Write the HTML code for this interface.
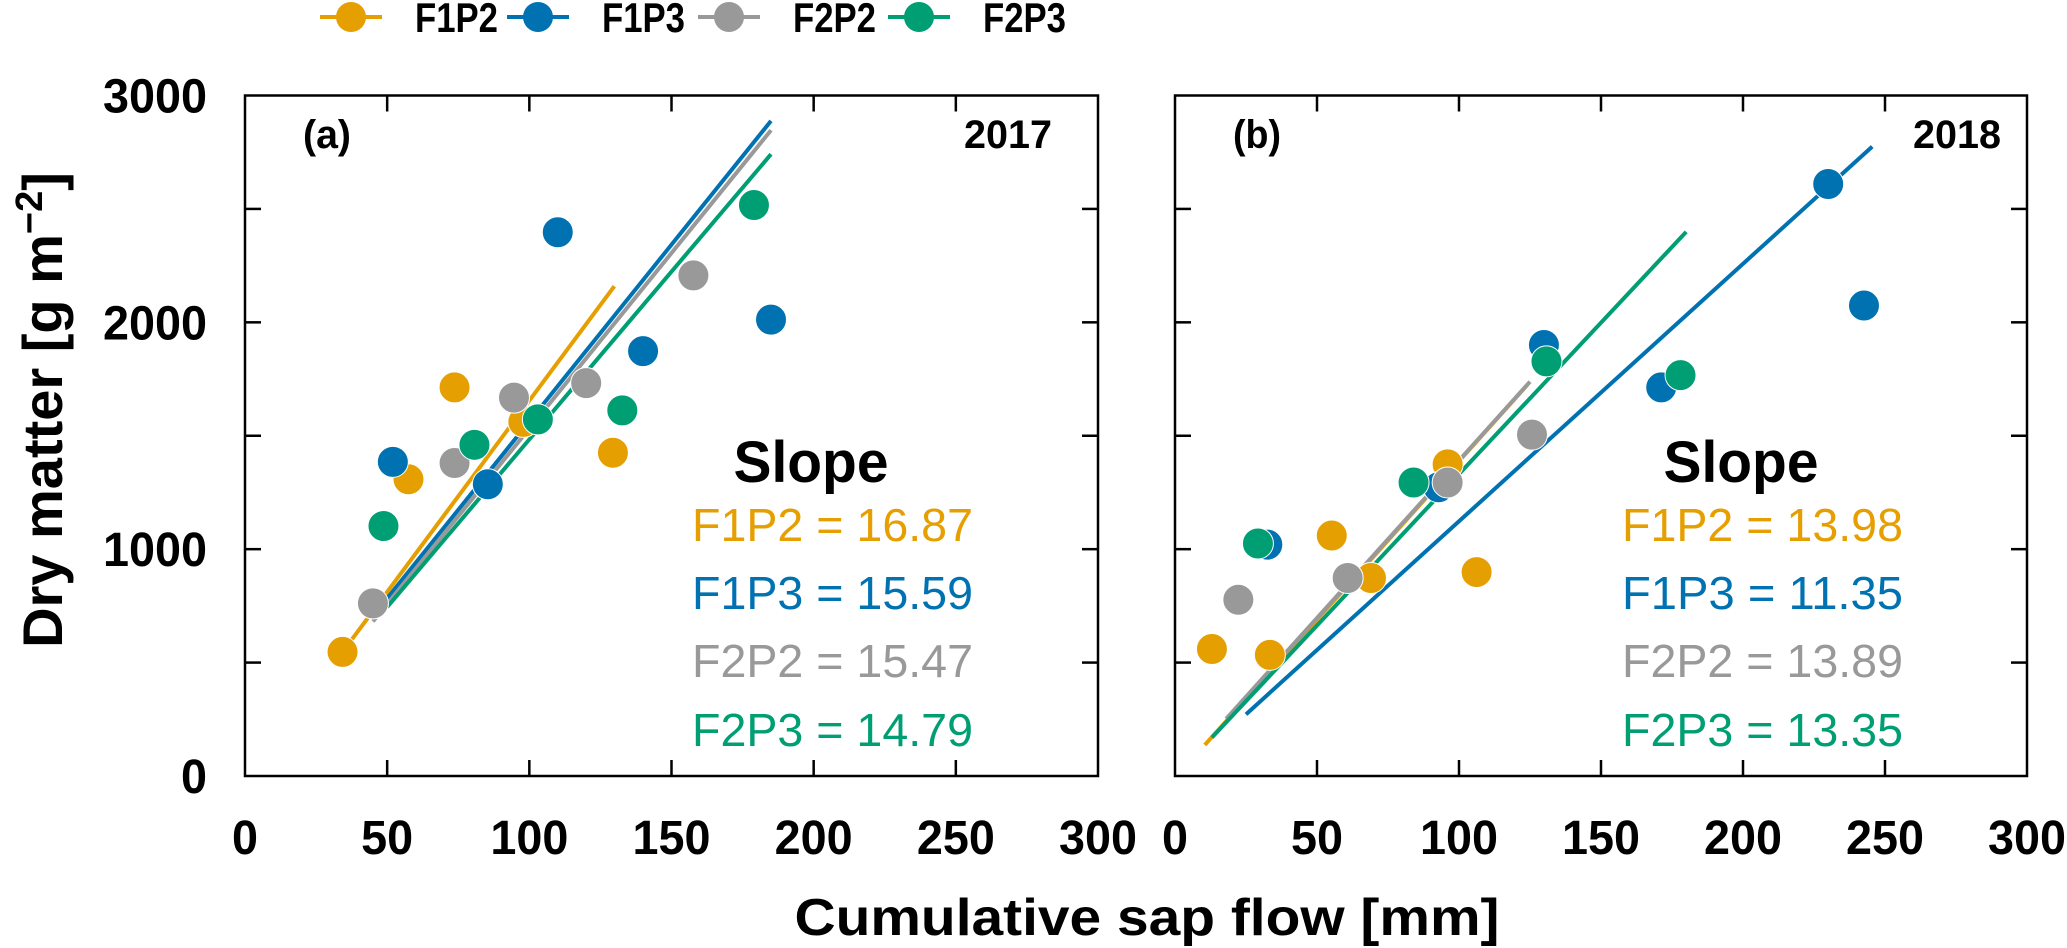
<!DOCTYPE html>
<html><head><meta charset="utf-8"><style>
html,body{margin:0;padding:0;background:#fff;}
svg{display:block;}
</style></head><body>
<svg id="chart" width="2067" height="948" viewBox="0 0 2067 948" xmlns="http://www.w3.org/2000/svg" font-family="Liberation Sans, Arial, sans-serif">
</svg>
<script>
const seriesNames = ["F1P2","F1P3","F2P2","F2P3"];
const colors = ["#E69F00","#0072B2","#999999","#009E73"];
const xTicks = [0,50,100,150,200,250,300];
const yTicks = [0,1000,2000,3000];
const yMinor = [500,1500,2500];
// Panel a (2017)
const aF1P2x = [34.3,57.5,73.7,97.9,129.4];
const aF1P2y = [547,1308,1713,1561,1425];
const aF1P3x = [52,85.4,110,140,185];
const aF1P3y = [1385,1286,2397,1873,2012];
const aF2P2x = [45,73.7,94.6,120,157.7];
const aF2P2y = [761,1380,1668,1732,2207];
const aF2P3x = [48.7,80.7,103,132.7,179];
const aF2P3y = [1102,1460,1572,1612,2517];
const aSlopes = [16.87,15.59,15.47,14.79];
const aIntercepts = [-32,4,-15,5];
const aLineStart = [34.3,47,45,50];
const aLineEnd = [129.9,185,185,185];
// Panel b (2018)
const bF1P2x = [13,33.4,55.2,69,96,106.2];
const bF1P2y = [560,534,1060,873,1374,899];
const bF1P3x = [32.5,92.8,129.9,171.2,230,242.6];
const bF1P3y = [1020,1273,1900,1713,2610,2074];
const bF2P2x = [22.3,60.8,96,125.7];
const bF2P2y = [777,873,1294,1505];
const bF2P3x = [29.2,84,130.8,178];
const bF2P3y = [1025,1294,1828,1767];
const bSlopes = [13.98,11.35,13.89,13.35];
const bIntercepts = [-10,-12,2,-4];
const bLineStart = [10.5,25,18,13];
const bLineEnd = [124,245.5,125,180];

const NS="http://www.w3.org/2000/svg";
const svg=document.getElementById('chart');
function mk(tag,attrs,parent){const e=document.createElementNS(NS,tag);for(const k in attrs)e.setAttribute(k,attrs[k]);(parent||svg).appendChild(e);return e;}

const plotTop=95.5,plotBottom=776;
function yScale(v){return plotBottom-(v/3000)*(plotBottom-plotTop);}

function panel(left,right,pts,slopes,ints,ls,le,label,year,showY,pid){
  const g=mk('g',{});
  
  
  const xs=v=>left+(v/300)*(right-left);
  const frame=mk('rect',{x:left,y:plotTop,width:right-left,height:plotBottom-plotTop,fill:'none',stroke:'#000','stroke-width':2.5},g);
  
  
  xTicks.forEach(t=>{
    const x=xs(t);
    if(t>0&&t<300){
      mk('line',{x1:x,y1:plotBottom,x2:x,y2:plotBottom-16,stroke:'#000','stroke-width':2.5},g);
      mk('line',{x1:x,y1:plotTop,x2:x,y2:plotTop+16,stroke:'#000','stroke-width':2.5},g);
    }
    const s=String(t);
    const tl=mk('text',{x:x,y:plotBottom+78,'font-size':48,'font-weight':'bold','text-anchor':'middle',textLength:s.length*26,lengthAdjust:'spacingAndGlyphs'},g);
    tl.textContent=t;
    
    
  });
  yTicks.concat(yMinor).forEach(t=>{
    const y=yScale(t);
    if(t>0&&t<3000){
      mk('line',{x1:left,y1:y,x2:left+16,y2:y,stroke:'#000','stroke-width':2.5},g);
      mk('line',{x1:right,y1:y,x2:right-16,y2:y,stroke:'#000','stroke-width':2.5},g);
    }
  });
  if(showY){
    yTicks.forEach(t=>{
      const s=String(t);
      const tl=mk('text',{x:left-38,y:yScale(t)+17,'font-size':48,'font-weight':'bold','text-anchor':'end',textLength:s.length*26,lengthAdjust:'spacingAndGlyphs'},g);
      tl.textContent=t;
      
      
    });
  }
  for(let i=0;i<4;i++){
    const y1=slopes[i]*ls[i]+ints[i], y2=slopes[i]*le[i]+ints[i];
    const l=mk('line',{x1:xs(ls[i]),y1:yScale(y1),x2:xs(le[i]),y2:yScale(y2),stroke:colors[i],'stroke-width':4},g);
    
    
  }
  for(let i=0;i<4;i++){
    const px=pts[i][0], py=pts[i][1];
    for(let j=0;j<px.length;j++){
      const c=mk('circle',{cx:xs(px[j]),cy:yScale(py[j]),r:15.5,fill:colors[i],stroke:'#fff','stroke-width':1},g);
      
      
    }
  }
  const pl=mk('text',{x:left+82,y:148,'font-size':40,'font-weight':'bold','text-anchor':'middle',textLength:48,lengthAdjust:'spacingAndGlyphs'},g);
  pl.textContent=label;
  
  
  const yr=mk('text',{x:right-(pid==='a'?46:26),y:148,'font-size':40,'font-weight':'bold','text-anchor':'end',textLength:88,lengthAdjust:'spacingAndGlyphs'},g);
  yr.textContent=year;
  
  
  const cx=left+566;
  const st=mk('text',{x:cx,y:482,'font-size':58,'font-weight':'bold','text-anchor':'middle',textLength:155,lengthAdjust:'spacingAndGlyphs'},g);
  st.textContent='Slope';
  
  
  const ey=[541,609,677,746];
  for(let i=0;i<4;i++){
    const t=mk('text',{x:left+447,y:ey[i],'font-size':46,fill:colors[i],textLength:281,lengthAdjust:'spacingAndGlyphs'},g);
    t.textContent=seriesNames[i]+' = '+slopes[i].toFixed(2);
    
    
  }
}
panel(245,1098,[[aF1P2x,aF1P2y],[aF1P3x,aF1P3y],[aF2P2x,aF2P2y],[aF2P3x,aF2P3y]],aSlopes,aIntercepts,aLineStart,aLineEnd,'(a)','2017',true,'a');
panel(1175,2027,[[bF1P2x,bF1P2y],[bF1P3x,bF1P3y],[bF2P2x,bF2P2y],[bF2P3x,bF2P3y]],bSlopes,bIntercepts,bLineStart,bLineEnd,'(b)','2018',false,'b');

const yt=mk('text',{transform:'translate(62,410) rotate(-90)','font-size':56,'font-weight':'bold','text-anchor':'middle'});
yt.innerHTML='Dry matter [g m<tspan dy="-20" font-size="38">−2</tspan><tspan dy="20">]</tspan>';


const xt=mk('text',{x:1147,y:935,'font-size':52,'font-weight':'bold','text-anchor':'middle',textLength:705,lengthAdjust:'spacingAndGlyphs'});
xt.textContent='Cumulative sap flow [mm]';



const lg=mk('g',{});


const lmx=[351,538,729,919];
for(let i=0;i<4;i++){
  const e=mk('g',{},lg);
  
  
  mk('line',{x1:lmx[i]-31,y1:17,x2:lmx[i]+31,y2:17,stroke:colors[i],'stroke-width':4},e);
  mk('circle',{cx:lmx[i],cy:17,r:15,fill:colors[i]},e);
  const t=mk('text',{x:lmx[i]+64,y:32,'font-size':42,'font-weight':'bold',textLength:83,lengthAdjust:'spacingAndGlyphs'},e);
  t.textContent=seriesNames[i];
}
</script>
</body></html>
